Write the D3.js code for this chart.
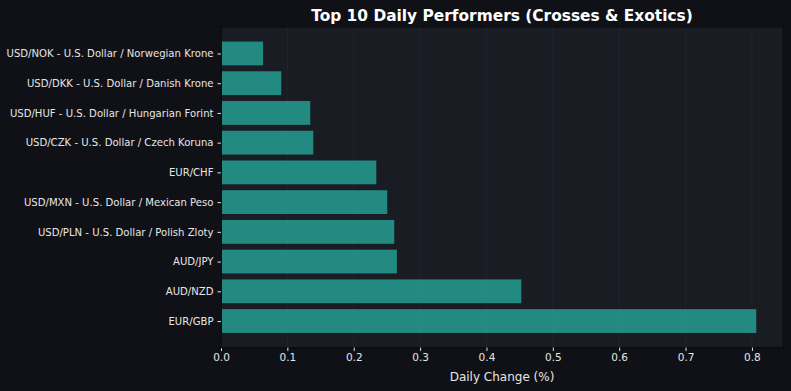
<!DOCTYPE html>
<html><head><meta charset="utf-8">
<script src="https://cdn.jsdelivr.net/npm/d3@7"></script>
<style>
html,body{margin:0;padding:0;background:#0f1117;}
svg{display:block;font-family:"DejaVu Sans",sans-serif;}
</style></head>
<body>
<svg id="chart" width="791" height="391"></svg>
<script>
const categories = ["EUR/GBP","AUD/NZD","AUD/JPY","USD/PLN - U.S. Dollar / Polish Zloty","USD/MXN - U.S. Dollar / Mexican Peso","EUR/CHF","USD/CZK - U.S. Dollar / Czech Koruna","USD/HUF - U.S. Dollar / Hungarian Forint","USD/DKK - U.S. Dollar / Danish Krone","USD/NOK - U.S. Dollar / Norwegian Krone"];
const values = [0.8065,0.4525,0.265,0.261,0.2505,0.234,0.139,0.1345,0.0908,0.0634];
const xTicks = [0,0.1,0.2,0.3,0.4,0.5,0.6,0.7,0.8];
const title = "Top 10 Daily Performers (Crosses & Exotics)";
const xLabel = "Daily Change (%)";

const svg = d3.select("#chart");
const L = 221, R = 783, T = 27, B = 347.5;
svg.append("rect").attr("width",791).attr("height",391).attr("fill","#0f1117");
svg.append("rect").attr("x",L).attr("y",T).attr("width",R-L).attr("height",B-T).attr("fill","#1a1c23");

const xMax = d3.max(values)*1.05;
const x = d3.scaleLinear().domain([0,xMax]).range([L,R]);
const n = categories.length;
const pad = 0.4 + 0.05*(n-1+0.8);
const y = d3.scaleLinear().domain([-pad, n-1+pad]).range([B,T]);
const bh = y(0) - y(0.8);

// grid
svg.append("g").selectAll("line").data(xTicks).join("line")
  .attr("x1",d=>x(d)).attr("x2",d=>x(d)).attr("y1",T).attr("y2",B)
  .attr("stroke","#2a2e39").attr("stroke-width",0.8).attr("opacity",0.6);

svg.append("g").selectAll("rect").data(values).join("rect")
  .attr("x",x(0)).attr("y",(d,i)=>y(i)-bh/2)
  .attr("width",d=>x(d)-x(0)).attr("height",bh)
  .attr("fill","#26a69a").attr("fill-opacity",0.8);

// spines
svg.append("rect").attr("x",L).attr("y",T).attr("width",R-L).attr("height",B-T)
  .attr("fill","none").attr("stroke","#0a0c10").attr("stroke-width",1);

// x axis
const xa = svg.append("g").attr("transform",`translate(0,${B})`)
  .call(d3.axisBottom(x).tickValues(xTicks).tickFormat(d3.format(".1f")).tickSize(3.5).tickPadding(3));
xa.select(".domain").attr("stroke","#0a0c10");
xa.selectAll(".tick line").attr("stroke","#e0e0e0");
xa.selectAll("text").attr("fill","#e6e6e6").attr("font-size",10.5).attr("font-family","DejaVu Sans");

// y axis
const ya = svg.append("g").attr("transform",`translate(${L},0)`)
  .call(d3.axisLeft(y).tickValues(d3.range(n)).tickFormat(i=>categories[i]).tickSize(3.5).tickPadding(4));
ya.select(".domain").attr("stroke","#0a0c10");
ya.selectAll(".tick line").attr("stroke","#e0e0e0");
ya.selectAll("text").attr("fill","#e6e6e6").attr("font-size",10.1).attr("font-family","DejaVu Sans");

svg.append("text").attr("x",(L+R)/2).attr("y",21).attr("text-anchor","middle")
  .attr("fill","#ffffff").attr("font-weight","bold").attr("font-size",15.4).text(title);
svg.append("text").attr("x",(L+R)/2).attr("y",381).attr("text-anchor","middle")
  .attr("fill","#e6e6e6").attr("font-size",12).text(xLabel);
</script>
</body></html>
